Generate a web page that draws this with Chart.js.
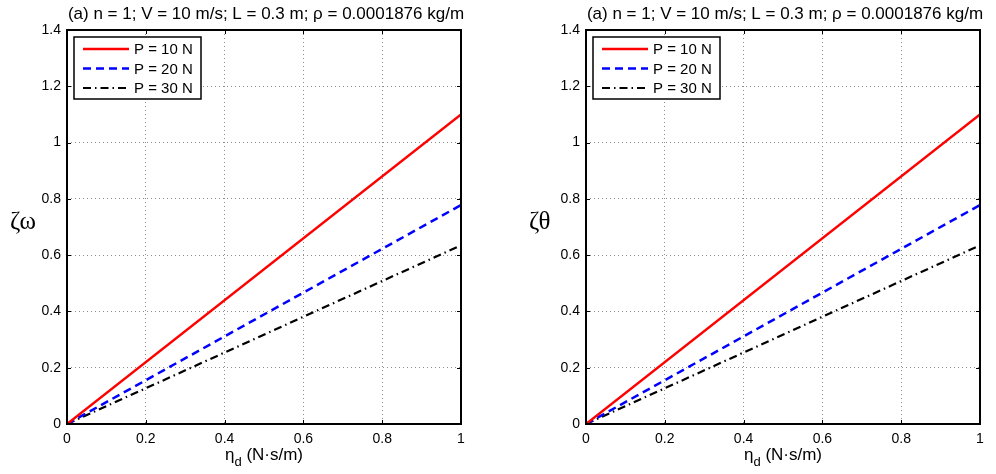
<!DOCTYPE html>
<html>
<head>
<meta charset="utf-8">
<script src="https://cdn.jsdelivr.net/npm/chart.js@4.4.0/dist/chart.umd.min.js"></script>
<style>
  body { margin: 0; background: #fff; width: 996px; height: 474px; overflow: hidden; position: relative; }
  canvas { position: absolute; top: 0; }
</style>
</head>
<body>
<canvas id="omegaChart" width="490" height="474" style="left:0px"></canvas>
<canvas id="thetaChart" width="477" height="474" style="left:519px"></canvas>
<script>
// data
var etaD = [0, 1];
var p10 = [0, 1.10];
var p20 = [0, 0.778];
var p30 = [0, 0.635];
var seriesNames = ['P = 10 N', 'P = 20 N', 'P = 30 N'];
var xTicks = [0, 0.2, 0.4, 0.6, 0.8, 1];
var yTicks = [0, 0.2, 0.4, 0.6, 0.8, 1, 1.2, 1.4];
var titleText = '(a) n = 1; V = 10 m/s; L = 0.3 m; \u03C1 = 0.0001876 kg/m';

var sans = '"Liberation Sans", Arial, sans-serif';
var serif = '"Liberation Serif", "Times New Roman", serif';

function pts(ys) {
  return etaD.map(function (x, i) { return { x: x, y: ys[i] }; });
}

// draws the matlab style frame, inward ticks, legend box and titles
var matlabLook = {
  id: 'matlabLook',
  afterDatasetsDraw: function (chart) {
    var ctx = chart.ctx, a = chart.chartArea;
    var xs = chart.scales.x, ys = chart.scales.y;
    ctx.save();
    ctx.strokeStyle = '#000';
    ctx.lineWidth = 1;
    ctx.beginPath();
    xTicks.forEach(function (v) {
      var px = Math.round(xs.getPixelForValue(v)) + 0.5;
      ctx.moveTo(px, a.bottom); ctx.lineTo(px, a.bottom - 4);
      ctx.moveTo(px, a.top); ctx.lineTo(px, a.top + 4);
    });
    yTicks.forEach(function (v) {
      var py = Math.round(ys.getPixelForValue(v)) + 0.5;
      ctx.moveTo(a.left, py); ctx.lineTo(a.left + 4, py);
      ctx.moveTo(a.right, py); ctx.lineTo(a.right - 4, py);
    });
    ctx.stroke();

    ctx.lineWidth = 2;
    ctx.strokeRect(a.left, a.top, a.right - a.left, a.bottom - a.top);

    // legend
    var lx = a.left + 7, ly = a.top + 7, lw = 127, lh = 62;
    ctx.fillStyle = '#fff';
    ctx.fillRect(lx, ly, lw, lh);
    ctx.lineWidth = 1.5;
    ctx.strokeStyle = '#000';
    ctx.strokeRect(lx, ly, lw, lh);
    chart.data.datasets.forEach(function (ds, i) {
      var y = ly + 12 + i * 19.5;
      ctx.beginPath();
      ctx.setLineDash(ds.borderDash || []);
      ctx.strokeStyle = ds.borderColor;
      ctx.lineWidth = ds.borderWidth;
      ctx.moveTo(lx + 9, y); ctx.lineTo(lx + 55, y);
      ctx.stroke();
      ctx.setLineDash([]);
      ctx.fillStyle = '#000';
      ctx.font = '15px ' + sans;
      ctx.textAlign = 'left';
      ctx.textBaseline = 'middle';
      ctx.fillText(ds.label, lx + 60, y + 1);
    });

    // title
    var cx = (a.left + a.right) / 2;
    ctx.fillStyle = '#000';
    ctx.font = '17px ' + sans;
    ctx.textAlign = 'center';
    ctx.textBaseline = 'alphabetic';
    ctx.fillText(titleText, cx + 2, 19);

    // x axis title with subscript
    var main = '\u03B7', sub = 'd', rest = ' (N\u00B7s/m)';
    ctx.font = '17px ' + sans;
    var w1 = ctx.measureText(main).width, w3 = ctx.measureText(rest).width;
    ctx.font = '13px ' + sans;
    var w2 = ctx.measureText(sub).width;
    var sx = cx - (w1 + w2 + w3) / 2;
    ctx.textAlign = 'left';
    ctx.font = '17px ' + sans;
    ctx.fillText(main, sx, 460);
    ctx.font = '13px ' + sans;
    ctx.fillText(sub, sx + w1, 466);
    ctx.font = '17px ' + sans;
    ctx.fillText(rest, sx + w1 + w2, 460);

    // y axis title
    ctx.font = '25px ' + serif;
    ctx.textAlign = 'left';
    ctx.fillText(chart.options.plugins.matlabLook.yTitle, 10, 229);
    ctx.restore();
  }
};

function makeChart(id, yTitle, rightPad) {
  return new Chart(document.getElementById(id), {
    type: 'line',
    data: {
      datasets: [
        { label: seriesNames[0], data: pts(p10), borderColor: '#ff0000', borderWidth: 2.5 },
        { label: seriesNames[1], data: pts(p20), borderColor: '#0000ff', borderWidth: 2.5, borderDash: [8, 5] },
        { label: seriesNames[2], data: pts(p30), borderColor: '#000000', borderWidth: 2.2, borderDash: [8, 4, 1.5, 4] }
      ]
    },
    options: {
      responsive: false,
      animation: false,
      elements: { point: { radius: 0 }, line: { tension: 0 } },
      layout: { padding: { top: 30, right: rightPad, left: 0, bottom: 0 } },
      plugins: {
        legend: { display: false },
        tooltip: { enabled: false },
        matlabLook: { yTitle: yTitle }
      },
      scales: {
        x: {
          type: 'linear', min: 0, max: 1,
          afterBuildTicks: function (axis) { axis.ticks = xTicks.map(function (v) { return { value: v }; }); },
          afterFit: function (axis) { axis.height = 50; },
          grid: { color: '#8c8c8c', drawTicks: false, lineWidth: 1 },
          border: { display: false, dash: [1, 3] },
          ticks: {
            padding: 7, color: '#000', maxRotation: 0,
            font: { family: sans, size: 14 },
            callback: function (v) { return String(Number(v.toFixed(1))); }
          }
        },
        y: {
          type: 'linear', min: 0, max: 1.4,
          afterBuildTicks: function (axis) { axis.ticks = yTicks.map(function (v) { return { value: v }; }); },
          afterFit: function (axis) { axis.width = 67; },
          grid: { color: '#8c8c8c', drawTicks: false, lineWidth: 1 },
          border: { display: false, dash: [1, 3] },
          ticks: {
            padding: 6, color: '#000',
            font: { family: sans, size: 14 },
            callback: function (v) { return String(Number(v.toFixed(1))); }
          }
        }
      }
    },
    plugins: [matlabLook]
  });
}

makeChart('omegaChart', '\u03B6\u03C9', 29);
makeChart('thetaChart', '\u03B6\u03B8', 16);
</script>
</body>
</html>
